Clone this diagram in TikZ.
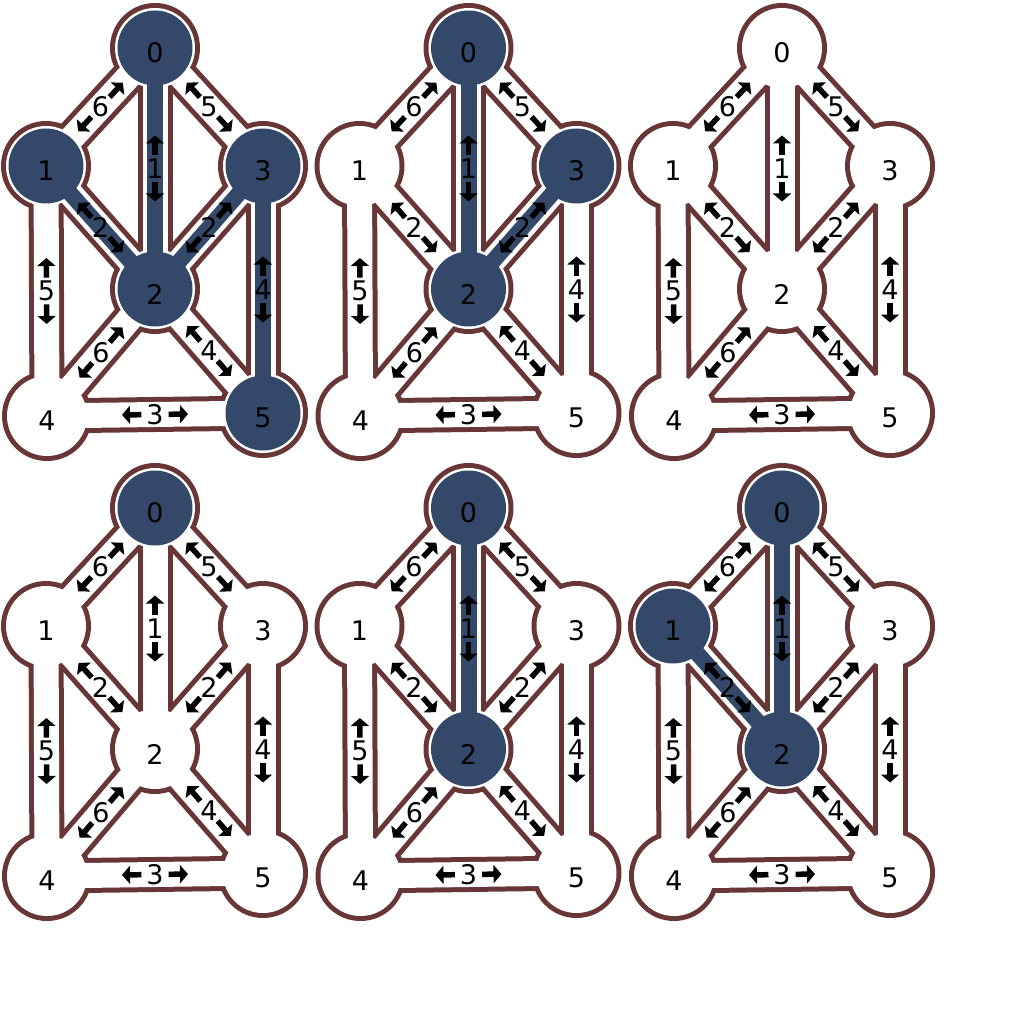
\documentclass[tikz,border=0pt]{standalone}
\usepackage{fontspec}
\setsansfont{DejaVu Sans}
\usepackage{tikz}
\usetikzlibrary{arrows.meta,calc}
\definecolor{rim}{HTML}{683636}
\definecolor{navy}{HTML}{34496A}
\tikzset{
  rimband/.style={line width=35pt,color=rim},
  paperband/.style={line width=25pt,color=white},
  pathband/.style={line width=16pt,color=navy},
  vtext/.style={font=\sffamily\fontsize{27pt}{30pt}\selectfont,inner sep=0pt,yshift=-5pt},
  wtext/.style={font=\sffamily\fontsize{27pt}{30pt}\selectfont,shape=circle,inner sep=0pt,minimum size=25pt},
  dimarr/.style={-{Triangle[width=18pt,length=8pt]},line width=5.5pt,color=black}
}
% #1 prefix, #2 shift, #3 nodes on the path, #4 edges on the path
\newcommand{\netpanel}[4]{%
\begin{scope}[shift={#2}]
  \coordinate (#1n0) at (155,48);
  \coordinate (#1n1) at (46,166);
  \coordinate (#1n3) at (263,166);
  \coordinate (#1n2) at (155,289);
  \coordinate (#1n4) at (47,416);
  \coordinate (#1n5) at (263,413);
  \foreach \a/\b in {0/1,0/3,0/2,1/2,3/2,1/4,3/5,2/4,2/5,4/5}
    \draw[rimband] (#1n\a) -- (#1n\b);
  \foreach \v in {0,...,5} \fill[rim] (#1n\v) circle[radius=45pt];
  \foreach \a/\b in {0/1,0/3,0/2,1/2,3/2,1/4,3/5,2/4,2/5,4/5}
    \draw[paperband] (#1n\a) -- (#1n\b);
  \foreach \v in {0,...,5} \fill[white] (#1n\v) circle[radius=40pt];
  \foreach \a/\b in {#4} \draw[pathband] (#1n\a) -- (#1n\b);
  \foreach \v in {#3} \fill[navy] (#1n\v) circle[radius=37.5pt];
  \foreach \v in {0,...,5} \node[vtext] (#1v\v) at (#1n\v) {\v};
  \foreach \a/\b/\w in {0/1/6,0/3/5,0/2/1,1/2/2,3/2/2,1/4/5,3/5/4,2/4/6,2/5/4,4/5/3} {
    \path (#1n\a) -- (#1n\b) node[midway,wtext] (#1w\a\b) {\w};
    \draw[dimarr] (#1w\a\b) -- ($(#1w\a\b)!33pt!(#1n\a)$);
    \draw[dimarr] (#1w\a\b) -- ($(#1w\a\b)!33pt!(#1n\b)$);
  }
\end{scope}}

\begin{document}
\begin{tikzpicture}[x=1pt,y=-1pt]
  \useasboundingbox (0,0) rectangle (1024,1024);
  \netpanel{A}{(0,0)}{0,1,2,3,5}{0/2,1/2,3/2,3/5}
  \netpanel{B}{(313.5,0)}{0,2,3}{0/2,3/2}
  \netpanel{C}{(627,0)}{}{}
  \netpanel{D}{(0,460)}{0}{}
  \netpanel{E}{(313.5,460)}{0,2}{0/2}
  \netpanel{F}{(627,460)}{0,1,2}{0/2,1/2}
\end{tikzpicture}
\end{document}
